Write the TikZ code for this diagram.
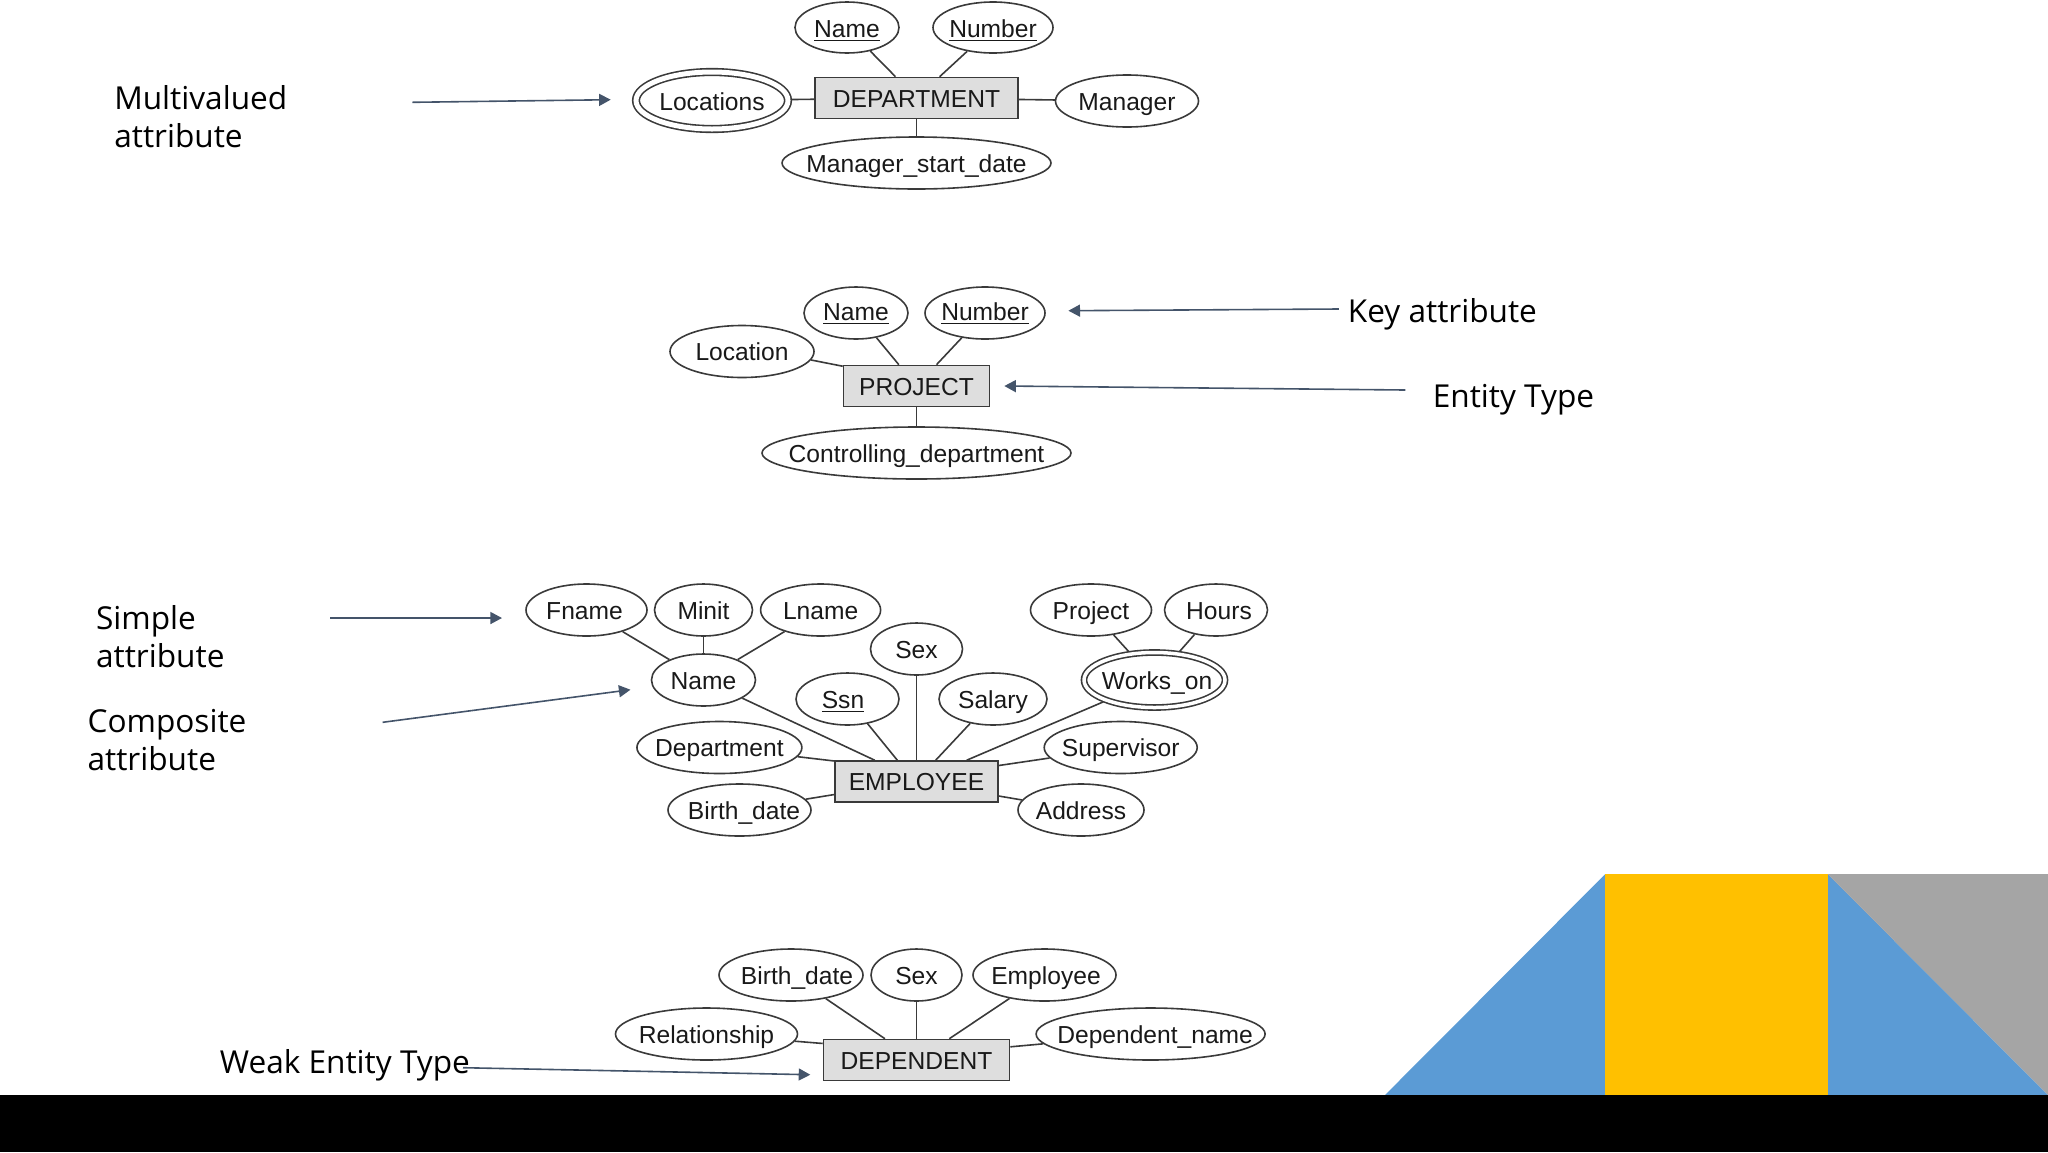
\documentclass[tikz,border=0pt]{standalone}
\usepackage{fontspec}
\setmainfont{Liberation Sans}
\newfontfamily\notefont{Open Sans}
\usetikzlibrary{shapes.geometric,arrows.meta}
\definecolor{erline}{HTML}{3A3A3A}
\definecolor{noteline}{HTML}{44546A}
\definecolor{slideblue}{HTML}{5B9BD5}
\definecolor{slideyellow}{HTML}{FFC000}
\definecolor{slidegray}{HTML}{A5A5A5}
\newcommand{\lbl}[2][0pt]{\makebox[0pt]{\hspace*{#1}#2}}

\begin{document}
\begin{tikzpicture}[x=0.5pt, y=-0.5pt,
    attr/.style 2 args={ellipse, draw=erline, line width=0.8pt, inner sep=0pt, text=black!90,
        font=\fontsize{12.3}{14}\selectfont, text height=9pt, text depth=0pt,
        minimum width=#1*0.5pt, minimum height=#2*0.5pt},
    entity/.style={rectangle, draw=erline, line width=0.8pt, fill=black!13, inner sep=0pt, text=black!90,
        font=\fontsize{12.3}{14}\selectfont, text height=9pt, text depth=0pt,
        minimum width=#1*0.5pt, minimum height=20.5pt},
    multi/.style={double, double distance=#1, outer sep=1.5pt},
    lower/.style={text height=10.3pt},
    upper/.style={text height=7.7pt},
    note/.style={anchor=base west, inner sep=0pt, align=left,
        font=\notefont\fontsize{15.8}{18.75}\selectfont},
    link/.style={draw=erline, line width=0.8pt},
    notearrow/.style={draw=noteline, line width=0.8pt, -{Triangle[length=5.8pt,width=6pt]}}]
    \useasboundingbox (0,0) rectangle (2048,1152);

    % slide decoration
    \fill[slideblue] (1385,1095) -- (1605.3,874) -- (1827.7,874) -- (2048,1095) -- cycle;
    \fill[slidegray] (1827.7,874) -- (2048,874) -- (2048,1095) -- cycle;
    \fill[slideyellow] (1605.3,874) rectangle (1827.7,1095);
    \fill[black] (0,1095) rectangle (2048,1152);

    % DEPARTMENT
    \node[entity=203] (dept) at (916.5,98) {DEPARTMENT};
    \node[attr={104}{51}, lower] (dName) at (847,27.5) {\lbl{\underline{Name}}};
    \node[attr={120}{51}, lower] (dNumber) at (993,27.5) {\lbl{\underline{Number}}};
    \node[attr={152}{57}, multi=2.5pt, lower] (dLocations) at (712,100.5) {\lbl{Locations}};
    \node[attr={143}{52}] (dManager) at (1127,101) {\lbl{Manager}};
    \node[attr={269}{52}] (dStart) at (916.5,163) {\lbl{Manager\_start\_date}};
    \draw[link] (dName) -- (dept);
    \draw[link] (dNumber) -- (dept);
    \draw[link] (dLocations) -- (dept);
    \draw[link] (dManager) -- (dept);
    \draw[link] (dStart) -- (dept);

    % PROJECT
    \node[entity=146] (proj) at (916.5,386) {PROJECT};
    \node[attr={104}{52}, upper] (pName) at (856,313) {\lbl{\underline{Name}}};
    \node[attr={120}{52}, upper] (pNumber) at (985,313) {\lbl{\underline{Number}}};
    \node[attr={144}{52}] (pLocation) at (742,351.5) {\lbl{Location}};
    \node[attr={309}{52}] (pControl) at (916.5,453) {\lbl{Controlling\_department}};
    \draw[link] (pName) -- (proj);
    \draw[link] (pNumber) -- (proj);
    \draw[link] (pLocation.-7) -- (proj.165);
    \draw[link] (pControl) -- (proj);

    % EMPLOYEE
    \node[entity=163] (emp) at (916.5,781.5) {EMPLOYEE};
    \node[attr={121}{52}] (eFname) at (586.5,610) {\lbl[-2pt]{Fname}};
    \node[attr={98}{52}] (eMinit) at (703.5,610) {\lbl{Minit}};
    \node[attr={120}{52}] (eLname) at (820.6,610) {\lbl{Lname}};
    \node[attr={104}{52}] (eName) at (703.5,680) {\lbl{Name}};
    \node[attr={92}{52}] (eSex) at (916.5,649) {\lbl{Sex}};
    \node[attr={103}{52}] (eSsn) at (847.5,699) {\lbl[-4.5pt]{\underline{Ssn}}};
    \node[attr={108}{52}] (eSalary) at (993,699) {\lbl{Salary}};
    \node[attr={141}{55}, multi=1.75pt] (eWorks) at (1154.5,680) {\lbl[2.6pt]{Works\_on}};
    \node[attr={121}{52}] (eProject) at (1091,610) {\lbl{Project}};
    \node[attr={103}{52}] (eHours) at (1216,610) {\lbl[3pt]{Hours}};
    \node[attr={165}{52}] (eDept) at (719.4,747.5) {\lbl{Department}};
    \node[attr={153}{52}] (eSuper) at (1120.7,747.5) {\lbl{Supervisor}};
    \node[attr={143}{52}] (eBirth) at (739.5,810) {\lbl[4.5pt]{Birth\_date}};
    \node[attr={126}{52}] (eAddress) at (1081,810) {\lbl{Address}};
    \draw[link] (eFname) -- (eName);
    \draw[link] (eMinit) -- (eName);
    \draw[link] (eLname) -- (eName);
    \draw[link] (eProject) -- (eWorks);
    \draw[link] (eHours) -- (eWorks);
    \draw[link] (eName) -- (emp.153);
    \draw[link] (eSsn) -- (emp.132);
    \draw[link] (eSex) -- (emp);
    \draw[link] (eSalary) -- (emp.48);
    \draw[link] (eWorks) -- (emp.23);
    \draw[link] (eDept) -- (emp.166.6);
    \draw[link] (eBirth) -- (emp.189.4);
    \draw[link] (eSuper) -- (emp.11.4);
    \draw[link] (eAddress) -- (emp.-10);

    % DEPENDENT
    \node[entity=186] (depd) at (916.5,1060) {DEPENDENT};
    \node[attr={144}{52}] (wBirth) at (791,975) {\lbl[6pt]{Birth\_date}};
    \node[attr={91}{52}] (wSex) at (916.5,975) {\lbl{Sex}};
    \node[attr={143}{52}] (wEmployee) at (1044.5,975) {\lbl[1.5pt]{Employee}};
    \node[attr={182}{52}] (wRelation) at (706.5,1034) {\lbl{Relationship}};
    \node[attr={229}{52}] (wDepName) at (1150.6,1034) {\lbl[4.5pt]{Dependent\_name}};
    \draw[link] (wBirth) -- (depd.146.8);
    \draw[link] (wSex) -- (depd);
    \draw[link] (wEmployee) -- (depd.33);
    \draw[link] (wRelation) -- (depd.170.2);
    \draw[link] (wDepName) -- (depd.8);

    % side notes
    \node[note] (nMulti) at (113.9,147.3) {Multivalued\\attribute};
    \node[note] (nKey) at (1347.5,322.7) {Key attribute};
    \node[note] (nEntity) at (1432.4,407.7) {Entity Type};
    \node[note] (nSimple) at (95.7,667.3) {Simple\\attribute};
    \node[note] (nComposite) at (87.2,770) {Composite\\attribute};
    \node[note] (nWeak) at (219.5,1073.2) {Weak Entity Type};

    \coordinate (aMultiA) at (412.4,102.3);
    \coordinate (aMultiB) at (610.7,99.7);
    \coordinate (aKeyA) at (1338.8,309);
    \coordinate (aKeyB) at (1068.4,310.7);
    \coordinate (aEntityA) at (1405.3,390);
    \coordinate (aEntityB) at (1004.3,386);
    \coordinate (aSimpleA) at (330.4,618);
    \coordinate (aSimpleB) at (502,618);
    \coordinate (aCompA) at (382.6,722.3);
    \coordinate (aCompB) at (630.5,689.7);
    \coordinate (aWeakA) at (463,1067.7);
    \coordinate (aWeakB) at (810.3,1074.7);
    \draw[notearrow] (aMultiA) -- (aMultiB);
    \draw[notearrow] (aKeyA) -- (aKeyB);
    \draw[notearrow] (aEntityA) -- (aEntityB);
    \draw[notearrow] (aSimpleA) -- (aSimpleB);
    \draw[notearrow] (aCompA) -- (aCompB);
    \draw[notearrow] (aWeakA) -- (aWeakB);
\end{tikzpicture}
\end{document}
